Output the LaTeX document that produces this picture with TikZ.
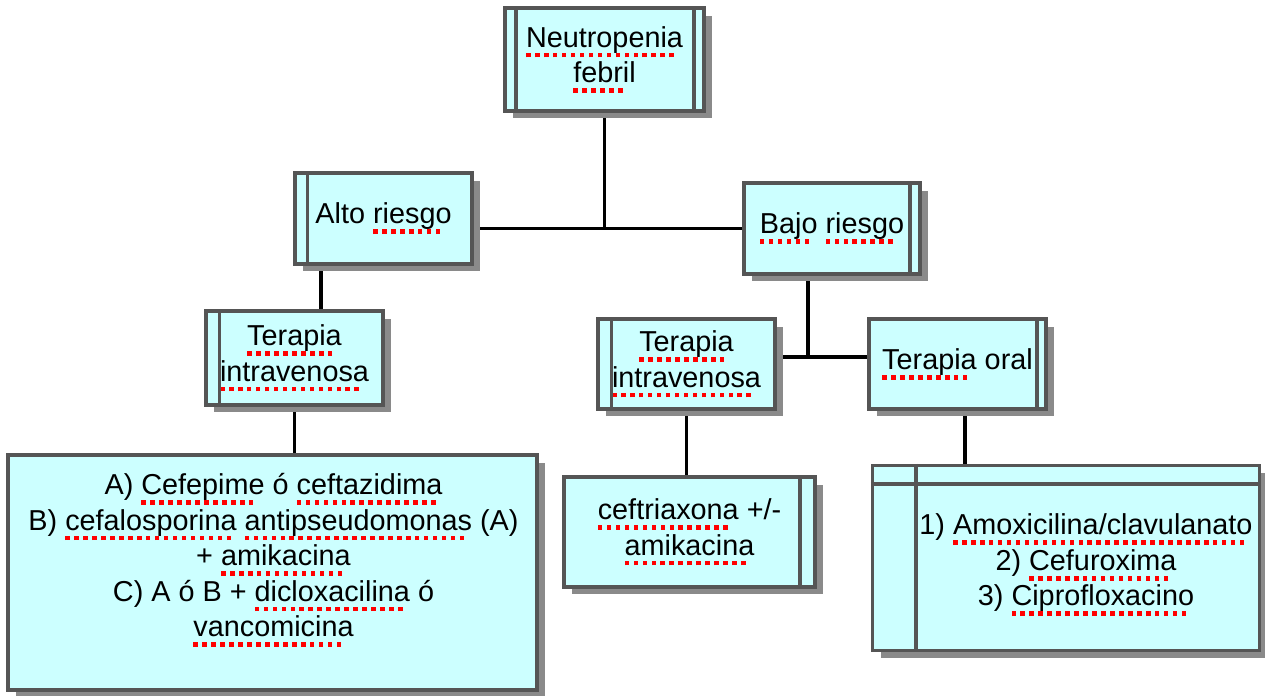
\documentclass[tikz,border=0pt]{standalone}
\usepackage{fontspec}
\setmainfont{Liberation Sans}
\usetikzlibrary{shadows,backgrounds}

\definecolor{celeste}{HTML}{CCFFFF}
\definecolor{borde}{HTML}{555555}
\definecolor{sombra}{HTML}{8A8A8A}

\newsavebox{\palabra}
\newcommand{\subrayar}[1]{\leavevmode\sbox{\palabra}{#1}%
  \rlap{\hbox to \wd\palabra{\color{red}\leaders\hbox{\rule[-5.8pt]{2.6pt}{2.6pt}\kern2.5pt}\hfill}}%
  \usebox{\palabra}}

\begin{document}
\begin{tikzpicture}[x=0.02cm, y=-0.02cm,
  caja/.style={draw=borde, line width=2pt, fill=celeste, inner sep=0pt, align=center,
    font=\fontsize{16.4}{20.2}\selectfont,
    drop shadow={shadow xshift=0.16cm, shadow yshift=-0.15cm, fill=sombra, opacity=1}},
  texto/.style={inner sep=0pt, align=center, font=\fontsize{16.4}{20.2}\selectfont},
  franja/.style={draw=borde, line width=2pt},
  linea/.style={line width=2pt, black}]
  \useasboundingbox (0,0) rectangle (1265,696);

  \node[caja, minimum width=3.98cm, minimum height=2.06cm] (neutro) at (604.5, 59.5) {\subrayar{Neutropenia}\\\subrayar{febril}};
  \node[caja, minimum width=3.54cm, minimum height=1.82cm] (alto) at (383.5, 218.5) {Alto \subrayar{riesgo}};
  \node[caja, minimum width=3.52cm, minimum height=1.82cm] (bajo) at (832, 228.5) {\subrayar{Bajo} \subrayar{riesgo}};
  \node[caja, minimum width=3.54cm, minimum height=1.88cm] (ivl) at (294.5, 358) {\subrayar{Terapia}\\\subrayar{intravenosa}};
  \node[caja, minimum width=3.54cm, minimum height=1.8cm] (ivr) at (686.5, 364) {\subrayar{Terapia}\\\subrayar{intravenosa}};
  \node[caja, minimum width=3.54cm, minimum height=1.8cm] (oral) at (957.5, 364) {\subrayar{Terapia} oral};
  \node[caja, minimum width=10.58cm, minimum height=4.7cm] (altorx) at (272.5, 572.5) {};
  \node[caja, minimum width=5.02cm, minimum height=2.2cm] (cefrx) at (689.5, 532) {\subrayar{ceftriaxona} +/-\\\subrayar{amikacina}};
  \node[caja, minimum width=7.74cm, minimum height=3.7cm] (oralrx) at (1066, 558) {};

  \draw[franja] ([xshift=0.25cm]neutro.north west) -- ([xshift=0.25cm]neutro.south west);
  \draw[franja] ([xshift=-0.23cm]neutro.north east) -- ([xshift=-0.23cm]neutro.south east);
  \draw[franja] ([xshift=0.28cm]alto.north west) -- ([xshift=0.28cm]alto.south west);
  \draw[franja] ([xshift=-0.24cm]bajo.north east) -- ([xshift=-0.24cm]bajo.south east);
  \draw[franja] ([xshift=0.3cm]ivl.north west) -- ([xshift=0.3cm]ivl.south west);
  \draw[franja] ([xshift=0.3cm]ivr.north west) -- ([xshift=0.3cm]ivr.south west);
  \draw[franja] ([xshift=-0.22cm]oral.north east) -- ([xshift=-0.22cm]oral.south east);
  \draw[franja] ([xshift=-0.34cm]cefrx.north east) -- ([xshift=-0.34cm]cefrx.south east);
  \draw[franja] ([xshift=0.9cm]oralrx.north west) -- ([xshift=0.9cm]oralrx.south west);
  \draw[franja] ([yshift=-0.4cm]oralrx.north west) -- ([yshift=-0.4cm]oralrx.north east);

  \node[texto] (altotxt) at (273.5, 560) {A) \subrayar{Cefepime} ó \subrayar{ceftazidima}\\
    B) \subrayar{cefalosporina} \subrayar{antipseudomonas} (A)\\
    + \subrayar{amikacina}\\
    C) A ó B + \subrayar{dicloxacilina} ó\\
    \subrayar{vancomicina}};
  \node[texto] (oraltxt) at (1086, 565) {1) \subrayar{Amoxicilina/clavulanato}\\
    2) \subrayar{Cefuroxima}\\
    3) \subrayar{Ciprofloxacino}};

  \coordinate (nudo) at (808, 357);
  \begin{scope}[on background layer]
    \draw[linea] (neutro.south) -- (neutro.south |- bajo.west);
    \draw[linea] (alto.east |- bajo.west) -- (bajo.west);
    \draw[linea] ([xshift=-1.25cm]alto.south) -- ([xshift=-1.25cm]alto.south |- ivl.north);
    \draw[linea] (ivl.south) -- (ivl.south |- altorx.north);
    \draw[linea] (bajo.south -| nudo) -- (nudo);
    \draw[linea] (ivr.east |- nudo) -- (oral.west |- nudo);
    \draw[linea] (ivr.south) -- (ivr.south |- cefrx.north);
    \draw[linea] ([xshift=0.15cm]oral.south) -- ([xshift=0.15cm]oral.south |- oralrx.north);
  \end{scope}
\end{tikzpicture}
\end{document}
